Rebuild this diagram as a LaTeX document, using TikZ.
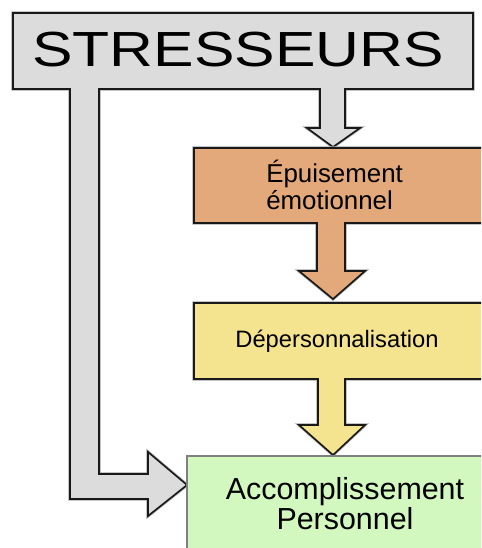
\documentclass[tikz,border=0pt]{standalone}
\usepackage{fontspec}
\setmainfont{Liberation Sans}
\definecolor{gris}{HTML}{DCDCDC}
\definecolor{orange}{HTML}{E3A97A}
\definecolor{jaune}{HTML}{F4E38F}
\definecolor{vert}{HTML}{D3F8BF}

\begin{document}
\begin{tikzpicture}[x=0.75pt,y=-0.75pt,line join=miter,every node/.style={inner sep=0pt},
  bloc/.style={draw=black!90,line width=1.2pt,preaction={draw=black!35,line width=2.3pt}}]
  \useasboundingbox (0,0) rectangle (481,548);
  \clip (0,0) rectangle (481,548);
  % stresseurs + fleches
  \draw[bloc,fill=gris] (13,13) -- (473,13) -- (473,89) -- (345,89) -- (345,128) -- (360,128)
    -- (333,147) -- (307,128) -- (320,128) -- (320,89) -- (99,89) -- (99,474) -- (148,474)
    -- (148,452) -- (187,485) -- (148,516) -- (148,499) -- (70,499) -- (70,89) -- (13,89) -- cycle;
  % epuisement
  \draw[bloc,fill=orange] (194,148) -- (495,148) -- (495,223) -- (345,223) -- (345,271)
    -- (365,271) -- (333,299) -- (299,271) -- (317,271) -- (317,223) -- (194,223) -- cycle;
  % depersonnalisation
  \draw[bloc,fill=jaune] (194,303) -- (495,303) -- (495,379) -- (345,379) -- (345,425)
    -- (365,425) -- (333,455) -- (299,425) -- (318,425) -- (318,379) -- (194,379) -- cycle;
  % accomplissement
  \draw[draw=black!50,line width=1pt,fill=vert] (187,456) rectangle (495,560);

  \node[anchor=base,font=\fontsize{37}{37}\selectfont] (stress) at (238,67)
    {\scalebox{1.23}[1]{STRESSEURS}};
  \node[anchor=west,align=left,font=\fontsize{19.4}{20.5}\selectfont] (epuis) at (266,185)
    {Épuisement\\émotionnel};
  \node[anchor=base,font=\fontsize{17.8}{18}\selectfont] (deper) at (337,347) {Dépersonnalisation};
  \node[align=center,font=\fontsize{22.8}{22.5}\selectfont] (accomp) at (345,504)
    {Accomplissement\\Personnel};
\end{tikzpicture}
\end{document}
